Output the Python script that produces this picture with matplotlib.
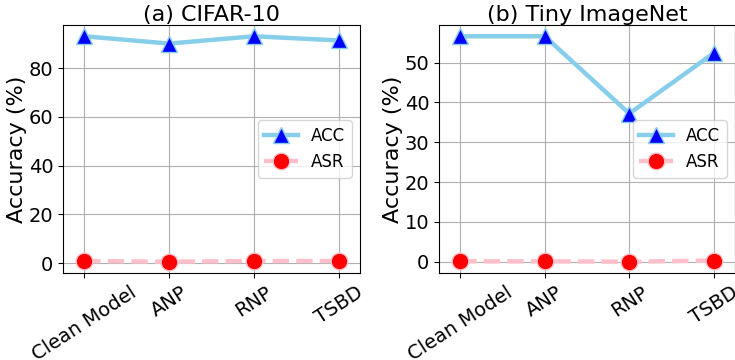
import numpy as np
import matplotlib
matplotlib.use("Agg")
import matplotlib.pyplot as plt
from matplotlib.ticker import MultipleLocator

# data
methods = ["Clean Model", "ANP", "RNP", "TSBD"]
cifar_acc = [93.1, 90.1, 93.1, 91.4]
cifar_asr = [0.9, 0.6, 0.9, 0.9]
tiny_acc = [56.6, 56.6, 37.2, 52.4]
tiny_asr = [0.1, 0.1, 0.0, 0.3]

titles = ["(a) CIFAR-10", "(b) Tiny ImageNet"]

fig = plt.figure(figsize=(7.35, 3.6), dpi=100)
ax1 = fig.add_axes([63/735, 1-273/360, 297/735, 248/360])
ax2 = fig.add_axes([439/735, 1-273/360, 296/735, 248/360])

for ax, acc, asr, title in zip([ax1, ax2], [cifar_acc, tiny_acc], [cifar_asr, tiny_asr], titles):
    x = np.arange(len(methods))
    ax.plot(x, acc, color="skyblue", linewidth=3.2, marker="^", markersize=12,
            markerfacecolor="blue", markeredgecolor="skyblue", label="ACC")
    ax.plot(x, asr, color="pink", linewidth=3.2, linestyle="--", marker="o", markersize=12,
            markerfacecolor="red", markeredgecolor="pink", label="ASR")
    ax.set_xticks(x)
    ax.set_xticklabels(methods, rotation=33, fontsize=14)
    ax.set_xlim(-0.25, 3.25)
    ax.tick_params(axis="y", labelsize=14)
    ax.set_ylabel("Accuracy (%)", fontsize=16, labelpad=1)
    ax.set_title(title, fontsize=16, pad=3)
    ax.grid(True)
    ax.legend(loc="center right", fontsize=12)

ax2.yaxis.set_major_locator(MultipleLocator(10))

fig.savefig("out.png", dpi=100)
